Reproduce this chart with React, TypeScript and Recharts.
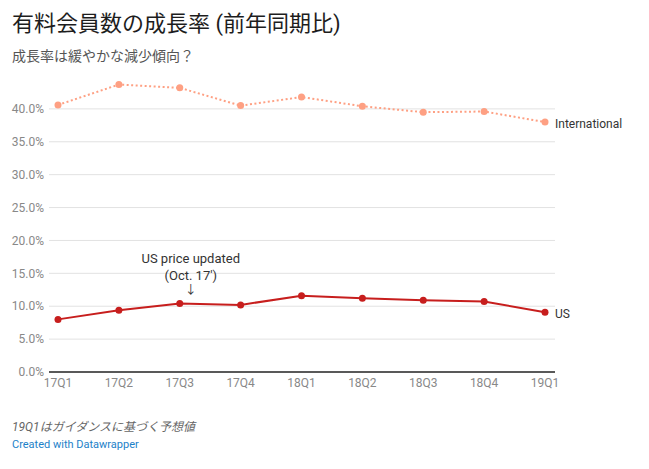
import React from 'react'
import { Line, LineChart, ReferenceDot, ReferenceLine, XAxis, YAxis } from 'recharts'

const quarters = ['17Q1', '17Q2', '17Q3', '17Q4', '18Q1', '18Q2', '18Q3', '18Q4', '19Q1']
const international = [40.6, 43.7, 43.2, 40.5, 41.8, 40.4, 39.5, 39.6, 38.0]
const us = [8.0, 9.4, 10.4, 10.2, 11.6, 11.2, 10.9, 10.7, 9.1]
const yTicks = [0, 5, 10, 15, 20, 25, 30, 35, 40]

const INTL_COLOR = '#fea083'
const US_COLOR = '#c71e1d'
const FONT = 'Roboto, "Noto Sans CJK JP", sans-serif'

const chartData = quarters.map((q, i) => ({ name: q, international: international[i], us: us[i] }))
const last = quarters.length - 1

function endLabel(text: string) {
  return (props: { cx?: number; cy?: number }) => {
    const { cx = 0, cy = 0 } = props
    return (
      <text x={cx + 10} y={cy + 3} fontSize={12} fill="#333" dominantBaseline="middle" fontFamily={FONT}>
        {text}
      </text>
    )
  }
}

function annotation(props: { cx?: number; cy?: number }) {
  const { cx = 0, cy = 0 } = props
  const x = cx + 11
  return (
    <g fontFamily={FONT} fontSize={13} fill="#333" textAnchor="middle">
      <text x={x} y={cy - 44} dominantBaseline="middle">US price updated</text>
      <text x={x} y={cy - 27} dominantBaseline="middle">(Oct. 17')</text>
      <text x={x} y={cy - 13} dominantBaseline="middle" fontSize={12}>↓</text>
    </g>
  )
}

export default function App() {
  return (
    <div style={{ position: 'absolute', left: 0, top: 0, width: 649, height: 469, background: '#fff', fontFamily: FONT }}>
      <div style={{ position: 'absolute', left: 12, top: 5, fontSize: 22, color: '#1d1d1d', whiteSpace: 'nowrap' }}>
        有料会員数の成長率 (前年同期比)
      </div>
      <div style={{ position: 'absolute', left: 12, top: 45, fontSize: 14, color: '#555', whiteSpace: 'nowrap' }}>
        成長率は緩やかな減少傾向？
      </div>
      <div style={{ position: 'absolute', left: 0, top: 0 }}>
        <LineChart width={649} height={402} data={chartData} margin={{ top: 76, right: 94, left: 0, bottom: 0 }}>
          {yTicks.slice(1).map((t) => (
            <ReferenceLine key={t} y={t} stroke="#e2e2e2" />
          ))}
          <XAxis
            dataKey="name"
            height={30}
            padding={{ left: 9, right: 10 }}
            tick={{ fontSize: 12, fill: '#888' }}
            tickSize={0}
            tickMargin={6}
            axisLine={{ stroke: '#222', strokeWidth: 1.5 }}
            tickLine={false}
          />
          <YAxis
            width={49}
            domain={[0, 45]}
            ticks={yTicks}
            tickFormatter={(v: number) => `${v.toFixed(1)}%`}
            tick={{ fontSize: 12, fill: '#888' }}
            tickSize={0}
            tickMargin={5}
            axisLine={false}
            tickLine={false}
          />
          <Line
            dataKey="international"
            stroke={INTL_COLOR}
            strokeWidth={2}
            strokeDasharray="2 2.5"
            dot={{ r: 3.5, fill: INTL_COLOR, stroke: 'none' }}
            isAnimationActive={false}
          />
          <Line
            dataKey="us"
            stroke={US_COLOR}
            strokeWidth={2}
            dot={{ r: 3.5, fill: US_COLOR, stroke: 'none' }}
            isAnimationActive={false}
          />
          <ReferenceDot x={quarters[last]} y={international[last]} r={0} shape={endLabel('International')} />
          <ReferenceDot x={quarters[last]} y={us[last]} r={0} shape={endLabel('US')} />
          <ReferenceDot x={quarters[2]} y={us[2]} r={0} shape={annotation} />
        </LineChart>
      </div>
      <div style={{ position: 'absolute', left: 12, top: 417, fontSize: 12, color: '#666', fontStyle: 'italic', whiteSpace: 'nowrap' }}>
        19Q1はガイダンスに基づく予想値
      </div>
      <div style={{ position: 'absolute', left: 12, top: 438, fontSize: 11, color: '#1d81c8', whiteSpace: 'nowrap' }}>
        Created with Datawrapper
      </div>
    </div>
  )
}
